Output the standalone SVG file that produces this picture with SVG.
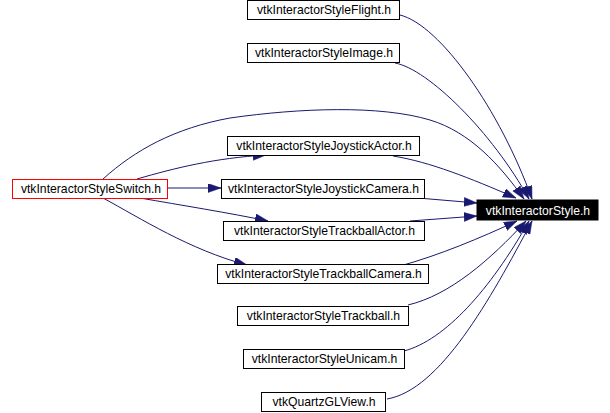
<svg xmlns="http://www.w3.org/2000/svg" width="610" height="413" viewBox="0 0 610 413">
<defs>
<style>
.n rect{fill:#ffffff;stroke:#000000;stroke-width:1}
.n text{font-family:"Liberation Sans",Arial,sans-serif;font-size:12.2px;fill:#000000;text-anchor:middle}
#n_switch rect{stroke:#ff0000}
#n_style rect{fill:#000000;stroke:#000000}
#n_style text{fill:#ffffff}
.e path{fill:none;stroke:#191970;stroke-width:1;marker-end:url(#ah)}
</style>
<marker id="ah" markerUnits="userSpaceOnUse" markerWidth="14" markerHeight="10" refX="13" refY="4.5" orient="auto">
<path d="M0,0 L13,4.5 L0,9 z" fill="#191970" stroke="#191970" stroke-width="0.5"/>
</marker>
</defs>
<rect width="610" height="413" fill="#ffffff"/>
<g id="edges" class="e">
<path d="M400,15 C440,25 500,110 532,199"/>
<path d="M395,63 C428,69 492,132 529,199"/>
<path d="M103,179 C135,150 175,128 230,118 C300,108 380,105 430,120 C470,132 500,165 524,199"/>
<path d="M393,156 C430,162 470,178 516,198"/>
<path d="M418,198 L477,203"/>
<path d="M410,221 L477,216"/>
<path d="M400,266 C440,255 480,238 517,221"/>
<path d="M408,305 C450,295 490,260 526,221"/>
<path d="M404,351 C445,340 490,290 529,221"/>
<path d="M387,399 C440,390 490,300 532,221"/>
<path d="M137,179 C175,168 215,158 266,155"/>
<path d="M167,188 L221,188"/>
<path d="M140,198 C180,205 230,213 268,221"/>
<path d="M103,198 C140,218 190,250 247,265"/>
</g>
<g id="n_flight" class="n"><rect x="247.5" y="0.5" width="152" height="19"/><text x="324" y="14">vtkInteractorStyleFlight.h</text></g>
<g id="n_image" class="n"><rect x="247.5" y="43.5" width="152" height="19"/><text x="324" y="57">vtkInteractorStyleImage.h</text></g>
<g id="n_jactor" class="n"><rect x="227.5" y="136.5" width="192" height="19"/><text x="324" y="150">vtkInteractorStyleJoystickActor.h</text></g>
<g id="n_switch" class="n"><rect x="12.5" y="179.5" width="155" height="19"/><text x="91" y="193">vtkInteractorStyleSwitch.h</text></g>
<g id="n_jcamera" class="n"><rect x="221.5" y="179.5" width="203" height="19"/><text x="323.5" y="193">vtkInteractorStyleJoystickCamera.h</text></g>
<g id="n_tactor" class="n"><rect x="223.5" y="221.5" width="201" height="19"/><text x="324.5" y="235">vtkInteractorStyleTrackballActor.h</text></g>
<g id="n_tcamera" class="n"><rect x="217.5" y="264.5" width="211" height="19"/><text x="323.5" y="278">vtkInteractorStyleTrackballCamera.h</text></g>
<g id="n_trackball" class="n"><rect x="237.5" y="306.5" width="171" height="19"/><text x="323.5" y="320">vtkInteractorStyleTrackball.h</text></g>
<g id="n_unicam" class="n"><rect x="243.5" y="349.5" width="161" height="19"/><text x="324.5" y="363">vtkInteractorStyleUnicam.h</text></g>
<g id="n_quartz" class="n"><rect x="261.5" y="392.5" width="124" height="19"/><text x="324" y="406">vtkQuartzGLView.h</text></g>
<g id="n_style" class="n"><rect x="477" y="200" width="121" height="20"/><text x="538" y="214.5">vtkInteractorStyle.h</text></g>
</svg>
